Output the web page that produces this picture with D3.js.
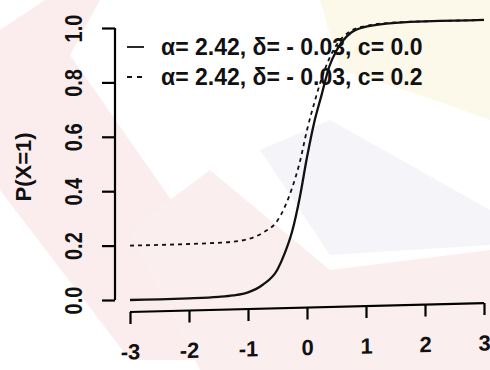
<!DOCTYPE html>
<html>
<head>
<meta charset="utf-8">
<script src="https://cdn.jsdelivr.net/npm/d3@7"></script>
<style>
  body { margin: 0; background: #fff; }
  svg text { font-family: "Liberation Sans", Arial, sans-serif; font-weight: bold; fill: #111; }
</style>
</head>
<body>
<svg id="chart" width="490" height="370"></svg>
<script>
// values
var theta = [-3, -2.5, -2, -1.5, -1.25, -1, -0.75, -0.5, -0.375, -0.25, -0.125, 0, 0.125, 0.25, 0.375, 0.5, 0.75, 1, 1.5, 2, 2.5, 3];
var pC00  = [0.000, 0.000, 0.001, 0.004, 0.008, 0.018, 0.045, 0.10, 0.16, 0.24, 0.36, 0.51, 0.64, 0.74, 0.84, 0.90, 0.965, 0.985, 0.997, 1.0, 1.0, 1.0];
var pC02  = [0.200, 0.200, 0.201, 0.203, 0.206, 0.214, 0.236, 0.28, 0.33, 0.40, 0.49, 0.61, 0.71, 0.80, 0.87, 0.92, 0.972, 0.988, 0.998, 1.0, 1.0, 1.0];
var xTicks = [-3, -2, -1, 0, 1, 2, 3];
var yTicks = [0, 0.2, 0.4, 0.6, 0.8, 1.0];
var legendLabels = ["\u03b1= 2.42, \u03b4= - 0.03, c= 0.0", "\u03b1= 2.42, \u03b4= - 0.03, c= 0.2"];
var yLabel = "P(X=1)";

var svg = d3.select("#chart");

// faint watermark behind the scanned figure
var wm = svg.append("g").attr("class", "watermark");
wm.append("path").attr("d", "M320,0 L490,0 L490,120 L420,95 L340,70 Z").attr("fill", "#fdf9ea");
wm.append("path").attr("d", "M0,30 L45,0 L100,0 L70,55 L255,320 L200,360 L130,360 L0,190 Z").attr("fill", "#fbeded");
wm.append("path").attr("d", "M130,230 L210,170 L330,270 L490,250 L490,370 L200,370 Z").attr("fill", "#fbeeee");
wm.append("path").attr("d", "M260,150 L330,120 L490,210 L490,245 L330,255 Z").attr("fill", "#f5f5f9");

var x = d3.scaleLinear().domain([-3, 3]).range([130, 484]);
var y = d3.scaleLinear().domain([0, 1]).range([300, 28]);

// y axis, R style with rotated labels
var yAxis = svg.append("g").attr("transform", "translate(115,0)")
  .call(d3.axisLeft(y).tickValues(yTicks).tickSize(13).tickSizeOuter(0).tickFormat(d3.format(".1f")));
yAxis.select(".domain").attr("stroke-width", 2.2).attr("d", "M0," + y(0) + "V" + y(1));
yAxis.selectAll(".tick line").attr("stroke-width", 2.2);
yAxis.selectAll(".tick text")
  .attr("x", 0).attr("dy", null)
  .attr("transform", "translate(-41,0) rotate(-90) scale(1,1.22)")
  .attr("text-anchor", "middle").attr("dominant-baseline", "central")
  .style("font-size", "20px");

svg.append("text")
  .attr("transform", "translate(23,167) rotate(-90)")
  .attr("text-anchor", "middle").attr("dominant-baseline", "central")
  .style("font-size", "22px").text(yLabel);

// the scan is a little tilted, so the plot region leans up to the right
var axisG = svg.append("g").attr("transform", "translate(130,0) skewY(-1.45) translate(-130,0)");
var xAxis = axisG.append("g").attr("transform", "translate(0,312)")
  .call(d3.axisBottom(x).tickValues(xTicks).tickSize(12).tickSizeOuter(0).tickFormat(d3.format("d")));
xAxis.select(".domain").attr("stroke-width", 2.2).attr("d", "M" + x(-3) + ",0H" + x(3));
xAxis.selectAll(".tick line").attr("stroke-width", 2.2);
xAxis.selectAll(".tick text").attr("y", 40).attr("dy", null)
  .attr("dominant-baseline", "central").style("font-size", "22px")
  .text(function(d) { return d < 0 ? "-" + Math.abs(d) : d; });

var plotG = svg.append("g").attr("transform", "translate(130,0) skewY(-1.3) translate(-130,0)");
var line = d3.line().curve(d3.curveMonotoneX)
  .x(function(d) { return x(d[0]); }).y(function(d) { return y(d[1]); });

plotG.append("path").datum(d3.zip(theta, pC02)).attr("d", line)
  .attr("fill", "none").attr("stroke", "#111").attr("stroke-width", 1.8).attr("stroke-dasharray", "4,4");
plotG.append("path").datum(d3.zip(theta, pC00)).attr("d", line)
  .attr("fill", "none").attr("stroke", "#111").attr("stroke-width", 2.3);

// legend, no box
var leg = svg.append("g");
legendLabels.forEach(function(t, i) {
  var ly = 47 + i * 30;
  leg.append("line").attr("x1", 127).attr("x2", 144).attr("y1", ly).attr("y2", ly)
    .attr("stroke", "#111").attr("stroke-width", 1.8).attr("stroke-dasharray", i ? "5,5" : null);
  leg.append("text").attr("x", 161).attr("y", ly).attr("dominant-baseline", "central")
    .style("font-size", "23px").text(t);
});
</script>
</body>
</html>
